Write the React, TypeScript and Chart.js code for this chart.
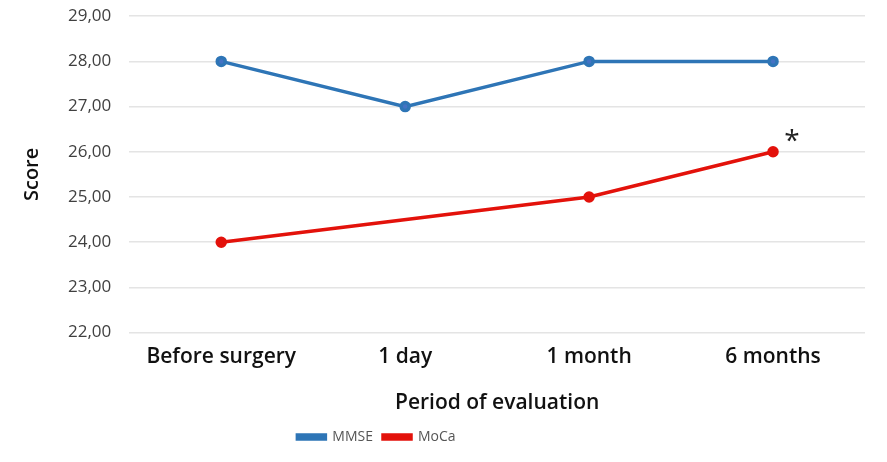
import React, { useEffect, useRef } from "react";
import { Chart, registerables } from "chart.js";

Chart.register(...registerables);

const categories = ["Before surgery", "1 day", "1 month", "6 months"];
const mmseValues = [28, 27, 28, 28];
const mocaValues: (number | null)[] = [24, null, 25, 26];
const seriesNames = ["MMSE", "MoCa"];
const yTitle = "Score";
const xTitle = "Period of evaluation";
const significanceMark = "*";
const significanceIndex = 3;

const FONT = "'Open Sans', Lato, sans-serif";

const starPlugin = {
  id: "starPlugin",
  afterDatasetsDraw(chart: any) {
    const meta = chart.getDatasetMeta(1);
    const pt = meta.data[significanceIndex];
    if (!pt) return;
    const ctx = chart.ctx;
    ctx.save();
    ctx.fillStyle = "#222";
    ctx.font = `28px ${FONT}`;
    ctx.textAlign = "center";
    ctx.textBaseline = "middle";
    ctx.fillText(significanceMark, pt.x + 19, pt.y - 10);
    ctx.restore();
  },
};

const legendShiftPlugin = {
  id: "legendShift",
  afterLayout(chart: any) {
    const lg = chart.legend;
    if (!lg) return;
    lg.left -= 56;
    lg.right -= 56;
  },
};

export default function App() {
  const ref = useRef<HTMLCanvasElement | null>(null);
  useEffect(() => {
    if (!ref.current) return;
    const chart = new Chart(ref.current, {
      type: "line",
      data: {
        labels: categories,
        datasets: [
          {
            label: seriesNames[0],
            data: mmseValues,
            borderColor: "#2e75b6",
            backgroundColor: "#2e75b6",
            pointBackgroundColor: "#4472c4",
            pointBorderColor: "#2e75b6",
            borderWidth: 3.5,
            pointRadius: 4,
            tension: 0,
          },
          {
            label: seriesNames[1],
            data: mocaValues,
            borderColor: "#e3120b",
            backgroundColor: "#e3120b",
            pointBackgroundColor: "#e3120b",
            pointBorderColor: "#e3120b",
            borderWidth: 3.5,
            pointRadius: 4,
            tension: 0,
            spanGaps: true,
          },
        ],
      },
      options: {
        animation: false,
        responsive: true,
        maintainAspectRatio: false,
        layout: { padding: { top: 0, right: 22, left: 0, bottom: 8 } },
        plugins: {
          legend: {
            position: "bottom",
            labels: {
              boxWidth: 28,
              boxHeight: 4,
              color: "#555",
              font: { family: FONT, size: 14 },
              padding: 10,
            },
          },
          tooltip: { enabled: false },
        },
        scales: {
          x: {
            offset: true,
            grid: { display: false },
            border: { display: false },
            ticks: {
              color: "#111",
              font: { family: FONT, size: 21, weight: 600 },
              maxRotation: 0,
              padding: 4,
            },
            title: {
              display: true,
              text: xTitle,
              color: "#111",
              font: { family: FONT, size: 21, weight: 600 },
              padding: { top: 17, bottom: 4 },
            },
          },
          y: {
            min: 22,
            max: 29,
            grid: { color: "#e4e4e4", lineWidth: 1.5, drawTicks: false },
            border: { display: false },
            ticks: {
              stepSize: 1,
              color: "#404040",
              padding: 18,
              font: { family: FONT, size: 17 },
              callback: (v: any) => Number(v).toFixed(2).replace(".", ","),
            },
            title: {
              display: true,
              text: yTitle,
              color: "#111",
              font: { family: FONT, size: 20, weight: 600 },
              padding: { top: 20, bottom: 6 },
            },
          },
        },
      },
      plugins: [starPlugin, legendShiftPlugin],
    });
    return () => chart.destroy();
  }, []);
  return (
    <div style={{ position: "absolute", left: 0, top: -12, width: 887, height: 474, background: "#fff" }}>
      <canvas ref={ref} />
    </div>
  );
}
